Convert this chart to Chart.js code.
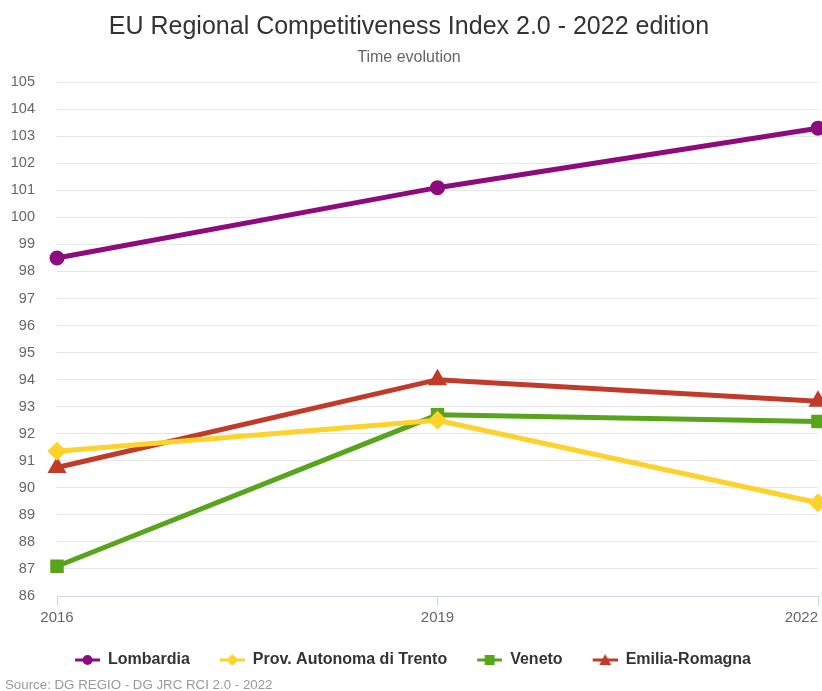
<!DOCTYPE html>
<html>
<head>
<meta charset="utf-8">
<title>EU Regional Competitiveness Index 2.0</title>
<script src="https://cdn.jsdelivr.net/npm/chart.js@4.4.1/dist/chart.umd.min.js"></script>
<style>
  html, body { margin: 0; padding: 0; background: #fff; }
  #wrap { position: relative; width: 822px; height: 691px; }
  #credits {
    position: absolute; left: 5px; top: 677px;
    font: 13.3px "Liberation Sans", Arial, sans-serif; color: #999;
    white-space: nowrap;
  }
</style>
</head>
<body>
<div id="wrap">
  <canvas id="lines"></canvas>
  <div id="credits">Source: DG REGIO - DG JRC RCI 2.0 - 2022</div>
</div>
<script>
// years on the x axis
const years = ['2016', '2019', '2022'];

// RCI 2.0 index per region
const lombardia = [98.5, 101.1, 103.3];
const trento = [91.35, 92.5, 89.45];
const veneto = [87.1, 92.7, 92.45];
const emilia = [90.75, 94.0, 93.2];

const regionNames = ['Lombardia', 'Prov. Autonoma di Trento', 'Veneto', 'Emilia-Romagna'];
const regionColors = ['#8d0b7c', '#fdd22b', '#58a51c', '#c13b2b'];
const regionMarkers = ['circle', 'rectRot', 'rect', 'triangle'];

const FONT = '"Liberation Sans", Arial, Helvetica, sans-serif';

// line + marker icon for the legend (blank strip on the left spaces the items out)
function legendIcon(color, marker) {
  const c = document.createElement('canvas');
  c.width = 33; c.height = 14;
  const ctx = c.getContext('2d');
  ctx.translate(8, 0);
  ctx.strokeStyle = color;
  ctx.lineWidth = 3;
  ctx.beginPath();
  ctx.moveTo(0, 7); ctx.lineTo(25, 7);
  ctx.stroke();
  ctx.fillStyle = color;
  ctx.beginPath();
  if (marker === 'circle') {
    ctx.arc(12.5, 7, 5, 0, Math.PI * 2);
  } else if (marker === 'rect') {
    ctx.rect(7.5, 2, 10, 10);
  } else if (marker === 'rectRot') {
    ctx.moveTo(12.5, 1); ctx.lineTo(18.5, 7); ctx.lineTo(12.5, 13); ctx.lineTo(6.5, 7);
  } else {
    ctx.moveTo(12.5, 1); ctx.lineTo(18.5, 12); ctx.lineTo(6.5, 12);
  }
  ctx.closePath();
  ctx.fill();
  return c;
}

const seriesData = [lombardia, trento, veneto, emilia];
const datasets = seriesData.map((vals, i) => ({
  label: regionNames[i],
  data: vals,
  borderColor: regionColors[i],
  backgroundColor: regionColors[i],
  borderWidth: 5,
  pointStyle: regionMarkers[i],
  pointRadius: regionMarkers[i] === 'circle' ? 5 : 6,
  pointHoverRadius: 7,
  tension: 0,
  clip: false
}));

const cfg = {
  type: 'line',
  data: { labels: years, datasets: datasets },
  options: {
    responsive: true,
    maintainAspectRatio: false,
    animation: false,
    layout: { autoPadding: false, padding: { left: 0, right: 4, top: 0, bottom: 13 } },
    plugins: {
      title: {
        display: true,
        text: 'EU Regional Competitiveness Index 2.0 - 2022 edition',
        color: '#333',
        font: { family: FONT, size: 25, weight: 'normal' },
        padding: { top: 12, bottom: 6 }
      },
      subtitle: {
        display: true,
        text: 'Time evolution',
        color: '#666',
        font: { family: FONT, size: 16 },
        padding: { bottom: 15 }
      },
      legend: {
        position: 'bottom',
        labels: {
          usePointStyle: true,
          pointStyleWidth: 33,
          padding: 22,
          color: '#333',
          font: { family: FONT, size: 16, weight: 'bold' },
          generateLabels: (chart) => chart.data.datasets.map((ds, i) => ({
            text: ds.label,
            fillStyle: ds.borderColor,
            strokeStyle: ds.borderColor,
            fontColor: '#333',
            pointStyle: legendIcon(regionColors[i], regionMarkers[i]),
            hidden: !chart.isDatasetVisible(i),
            datasetIndex: i
          }))
        }
      },
      tooltip: { enabled: true }
    },
    scales: {
      x: {
        offset: false,
        border: { color: '#ccd6eb', width: 1 },
        grid: { drawOnChartArea: false, color: '#ccd6eb', tickLength: 10 },
        ticks: {
          color: '#666',
          font: { family: FONT, size: 15 },
          padding: 3,
          // last year label sits left of its tick, inside the canvas
          callback: function (value, index, ticks) {
            const label = this.getLabelForValue(value);
            return index === ticks.length - 1 ? label + '\u2007\u2007\u2007\u2007' : label;
          }
        },
        afterFit: (scale) => { scale.paddingRight = 0; }
      },
      y: {
        min: 86,
        max: 105,
        border: { display: false },
        grid: { color: '#e6e6e6', drawTicks: false },
        ticks: { stepSize: 1, color: '#666', font: { family: FONT, size: 14.5 }, padding: 22 },
        afterFit: (scale) => { scale.width = 57; }
      }
    }
  }
};

const linesCtx = document.getElementById('lines');
window.myLines = new Chart(linesCtx, cfg);
</script>
</body>
</html>
